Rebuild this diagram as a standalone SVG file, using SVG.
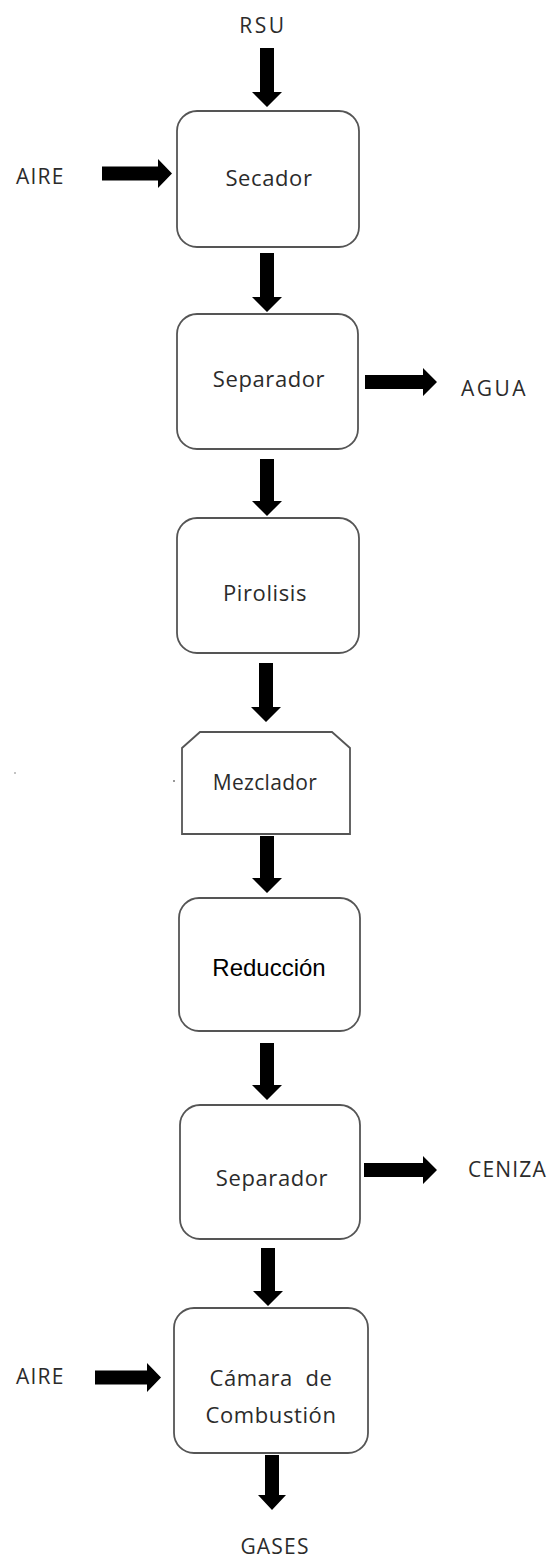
<svg xmlns="http://www.w3.org/2000/svg" width="550" height="1562" viewBox="0 0 550 1562">
  <style>
    .box { fill: #ffffff; stroke: #555555; stroke-width: 1.8; }
    .arrow { fill: #000000; stroke: none; }
    .node-text { font-family: "Open Sans", "Noto Sans", sans-serif; font-size: 22px; fill: #2b2b2b; letter-spacing: 0.6px; text-anchor: middle; }
    .label { font-family: "Open Sans", "Noto Sans", sans-serif; font-size: 21px; fill: #2b2b2b; letter-spacing: 1.2px; }
    .plain { font-family: "Liberation Sans", Arial, sans-serif; font-size: 24px; fill: #000000; text-anchor: middle; }
    .speck { fill: #777777; }
  </style>
  <rect x="0" y="0" width="550" height="1562" fill="#ffffff"/>

  <!-- stream labels -->
  <g id="labels">
    <text class="label" x="263" y="33" text-anchor="middle" style="letter-spacing:2.5px">RSU</text>
    <text class="label" x="16" y="184">AIRE</text>
    <text class="label" x="461" y="396" style="letter-spacing:2.5px">AGUA</text>
    <text class="label" x="468" y="1177">CENIZA</text>
    <text class="label" x="16" y="1384">AIRE</text>
    <text class="label" x="275" y="1554" text-anchor="middle">GASES</text>
  </g>

  <!-- process units -->
  <g id="secador">
    <rect class="box" x="177" y="111" width="182" height="136" rx="20" ry="20"/>
    <text class="node-text" x="269" y="186">Secador</text>
  </g>
  <g id="separador-agua">
    <rect class="box" x="177" y="314" width="181" height="135" rx="20" ry="20"/>
    <text class="node-text" x="269" y="387">Separador</text>
  </g>
  <g id="pirolisis">
    <rect class="box" x="177" y="518" width="182" height="135" rx="20" ry="20"/>
    <text class="node-text" x="265" y="601">Pirolisis</text>
  </g>
  <g id="mezclador">
    <path class="box" d="M200,732 L332,732 L350,748 L350,834 L182,834 L182,748 Z"/>
    <text class="node-text" x="265" y="790" style="font-size:21px;letter-spacing:0.3px">Mezclador</text>
  </g>
  <g id="reduccion">
    <rect class="box" x="179" y="898" width="181" height="133" rx="20" ry="20"/>
    <text class="plain" x="269" y="976">Reducción</text>
  </g>
  <g id="separador-ceniza">
    <rect class="box" x="180" y="1105" width="180" height="134" rx="20" ry="20"/>
    <text class="node-text" x="272" y="1186">Separador</text>
  </g>
  <g id="camara-combustion">
    <rect class="box" x="174" y="1308" width="194" height="145" rx="20" ry="20"/>
    <text class="node-text" x="271" y="1386" xml:space="preserve">Cámara  de</text>
    <text class="node-text" x="271" y="1423">Combustión</text>
  </g>

  <!-- block arrows -->
  <g id="connectors">
    <polygon class="arrow" points="260,48 274,48 274,92 282,92 267,107 252,92 260,92"/>
    <polygon class="arrow" points="102,166.5 158,166.5 158,159 172,173.5 158,188 158,180.5 102,180.5"/>
    <polygon class="arrow" points="260,253 274,253 274,297 282,297 267,312 252,297 260,297"/>
    <polygon class="arrow" points="365,375 423,375 423,368 437,382 423,396 423,389 365,389"/>
    <polygon class="arrow" points="260,459 274,459 274,501 282,501 267,516 252,501 260,501"/>
    <polygon class="arrow" points="259,663 273,663 273,707 281,707 266,722 251,707 259,707"/>
    <polygon class="arrow" points="260,836 274,836 274,878 282,878 267,893 252,878 260,878"/>
    <polygon class="arrow" points="260,1043 274,1043 274,1085 282,1085 267,1100 252,1085 260,1085"/>
    <polygon class="arrow" points="364,1163 423,1163 423,1156 437,1170 423,1184 423,1177 364,1177"/>
    <polygon class="arrow" points="261,1248 275,1248 275,1291 283,1291 268,1306 253,1291 261,1291"/>
    <polygon class="arrow" points="95,1370.5 147,1370.5 147,1363 161,1377.5 147,1392 147,1384.5 95,1384.5"/>
    <polygon class="arrow" points="265,1455 279,1455 279,1495 286,1495 272,1510 258,1495 265,1495"/>
  </g>

  <!-- stray marks -->
  <circle class="speck" cx="174" cy="781" r="1"/>
  <circle class="speck" cx="15" cy="773" r="0.8"/>
</svg>
